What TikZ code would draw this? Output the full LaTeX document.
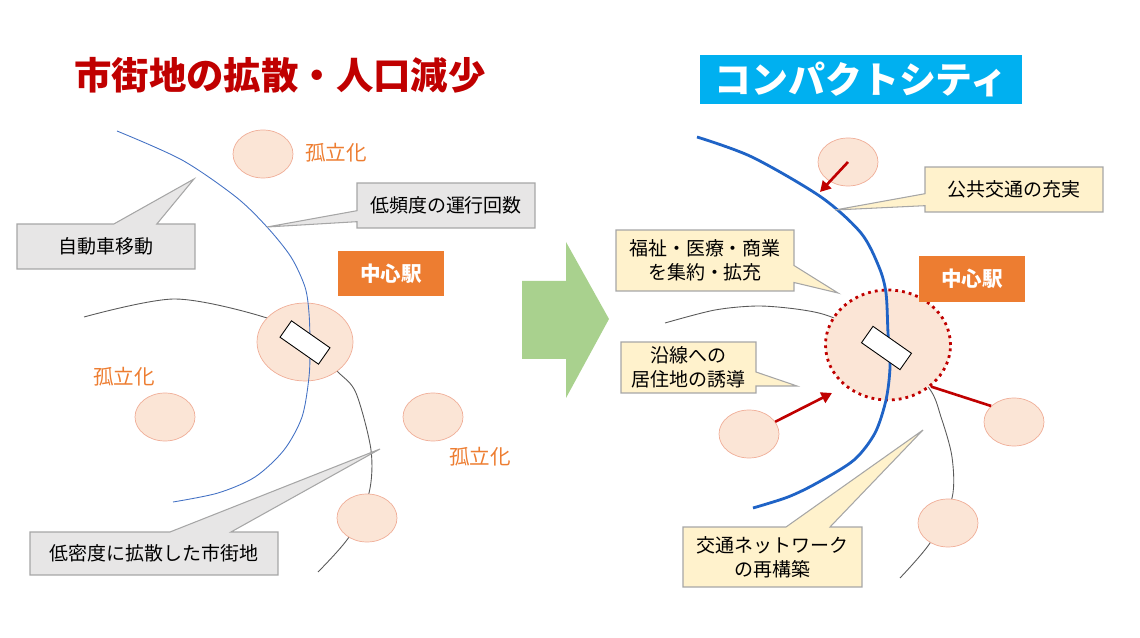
\documentclass[tikz,border=0pt]{standalone}
\usepackage{fontspec}
\setmainfont{Noto Sans CJK JP}
\usetikzlibrary{shapes.geometric,shapes.callouts,arrows.meta}

\definecolor{titlered}{HTML}{C00000}
\definecolor{cyanbox}{HTML}{00B0F0}
\definecolor{orangebox}{HTML}{ED7D31}
\definecolor{pinkfill}{HTML}{FBE5D6}
\definecolor{pinkline}{HTML}{F0AE98}
\definecolor{grayfill}{HTML}{E7E6E6}
\definecolor{yellowfill}{HTML}{FFF2CC}
\definecolor{boxline}{HTML}{A6A6A6}
\definecolor{lineblue}{HTML}{4472C4}
\definecolor{railblue}{HTML}{1F63C6}
\definecolor{linegray}{HTML}{595959}
\definecolor{arrowgreen}{HTML}{A9D18E}

\begin{document}
\begin{tikzpicture}[x=0.02cm, y=-0.02cm,
  font=\fontsize{10.8}{13.6}\selectfont,
  bubble/.style={rectangle callout, draw=boxline, line width=0.6pt,
                 fill=#1, align=center, inner sep=0pt},
  town/.style={ellipse, draw=pinkline, line width=0.4pt, fill=pinkfill,
               minimum width=1.2cm, minimum height=0.96cm, inner sep=0pt},
  stn/.style={draw, fill=white, line width=0.5pt, minimum width=0.94cm,
              minimum height=0.4cm, rotate=-35, inner sep=0pt},
  stnlabel/.style={fill=orangebox, text=white, inner sep=0pt,
                   font=\fontsize{11.7}{14}\selectfont\bfseries,
                   minimum width=2.12cm, minimum height=0.9cm},
  iso/.style={text=orangebox, font=\fontsize{11.7}{14}\selectfont},
  arr/.style={-{Triangle[length=6pt,width=6.5pt]}, line width=1.5pt,
              draw=titlered}
]
  \useasboundingbox (0,0) rectangle (1140,638);

  % left: spread-out town
  \draw[linegray, line width=0.5pt] plot[smooth] coordinates {(84,317) (175,299)
    (267,318) (305,341) (338,372) (356,393) (371,450) (369,493) (349,537) (318,572)};

  \node[town] (iso1) at (263,154) {};
  \node[town] (iso2) at (165,417) {};
  \node[town] (iso3) at (433,417) {};
  \node[town] (iso4) at (367,518) {};
  \node[town, minimum width=1.92cm, minimum height=1.56cm] (ctr1) at (305,342) {};

  \draw[lineblue, line width=0.5pt] plot[smooth] coordinates {(117,131) (182,160)
    (236,197) (267,227) (291,257) (305,287) (309,313) (310,345) (309,377)
    (302,417) (284,450) (255,477) (218,493) (173,502)};

  \node[stn] (st1) at (305,342.5) {};

  \node[iso] (lbl1) at (336,153) {孤立化};
  \node[iso] (lbl2) at (124,377) {孤立化};
  \node[iso] (lbl3) at (480,457) {孤立化};
  \node[stnlabel] (main1) at (391,273.5) {中心駅};

  \coordinate (tfreq) at (267,227);
  \coordinate (tcar) at (194,179);
  \coordinate (tsprawl) at (380,449);
  \node[bubble=grayfill, minimum width=3.56cm, minimum height=0.9cm,
        callout absolute pointer={(tfreq)}, callout pointer width=0.22cm]
        (freq) at (446,205.5) {低頻度の運行回数};
  \node[bubble=grayfill, minimum width=3.56cm, minimum height=0.9cm,
        callout absolute pointer={(tcar)}, callout pointer width=0.86cm]
        (car) at (106,246.5) {自動車移動};
  \node[bubble=grayfill, minimum width=4.96cm, minimum height=0.86cm,
        callout absolute pointer={(tsprawl)}, callout pointer width=1.22cm]
        (sprawl) at (154,553.5) {低密度に拡散した市街地};

  \node[text=titlered, font=\fontsize{21.3}{24}\selectfont\bfseries]
        (title1) at (280,75) {市街地の拡散・人口減少};

  % arrow between the two
  \fill[arrowgreen] (522,281) -- (566,281) -- (566,242) -- (609,319)
        -- (566,398) -- (566,359) -- (522,359) -- cycle;

  % right: compact city
  \draw[linegray, line width=0.5pt] plot[smooth] coordinates {(665,323) (715,310)
    (759,306) (803,310) (834,318) (888,345) (929,388) (941,417) (952,457)
    (952,498) (930,543) (900,578)};

  \node[town] (r1) at (848,162) {};
  \node[town] (r2) at (749,434) {};
  \node[town] (r3) at (1014,422) {};
  \node[town] (r4) at (948,523) {};
  \node[town, draw=titlered, line width=1.6pt, dash pattern=on 1.6pt off 2.3pt,
        minimum width=2.5cm, minimum height=2.2cm] (ctr2) at (888,345) {};

  \draw[railblue, line width=1.6pt] plot[smooth] coordinates {(697,137) (752,157)
    (821,197) (861,233) (879,267) (886,293) (888,333) (890,367) (886,400)
    (875,433) (854,460) (817,483) (788,497) (753,508)};

  \node[stn] (st2) at (886.5,348) {};

  \coordinate (ta1) at (820,192);
  \coordinate (ta2) at (832,393);
  \draw[arr] (r1.center) -- (ta1);
  \draw[arr] (r2.25) -- (ta2);
  \draw[titlered, line width=1.5pt] (ctr2.-44) -- (r3.145);

  \node[stnlabel, minimum height=0.92cm] (main2) at (972,279) {中心駅};

  \coordinate (tpub) at (835,210);
  \coordinate (twel) at (838,293);
  \coordinate (tres) at (797,386);
  \coordinate (tnet) at (923,430);
  \node[bubble=yellowfill, minimum width=3.56cm, minimum height=0.9cm,
        callout absolute pointer={(tpub)}, callout pointer width=0.24cm]
        (pub) at (1014,189.5) {公共交通の充実};
  \node[bubble=yellowfill, minimum width=3.56cm, minimum height=1.22cm,
        callout absolute pointer={(twel)}, callout pointer width=0.34cm]
        (wel) at (705,260.5) {福祉・医療・商業\\を集約・拡充};
  \node[bubble=yellowfill, minimum width=2.7cm, minimum height=1.02cm,
        callout absolute pointer={(tres)}, callout pointer width=0.28cm]
        (res) at (688.5,367.5) {沿線への\\居住地の誘導};
  \node[bubble=yellowfill, minimum width=3.58cm, minimum height=1.2cm,
        callout absolute pointer={(tnet)}, callout pointer width=0.88cm]
        (net) at (772.5,557) {交通ネットワーク\\の再構築};

  \node[fill=cyanbox, text=white, font=\fontsize{21}{24}\selectfont\bfseries,
        minimum width=6.44cm, minimum height=0.98cm, inner sep=0pt]
        (title2) at (861,79.5) {コンパクトシティ};
\end{tikzpicture}
\end{document}
